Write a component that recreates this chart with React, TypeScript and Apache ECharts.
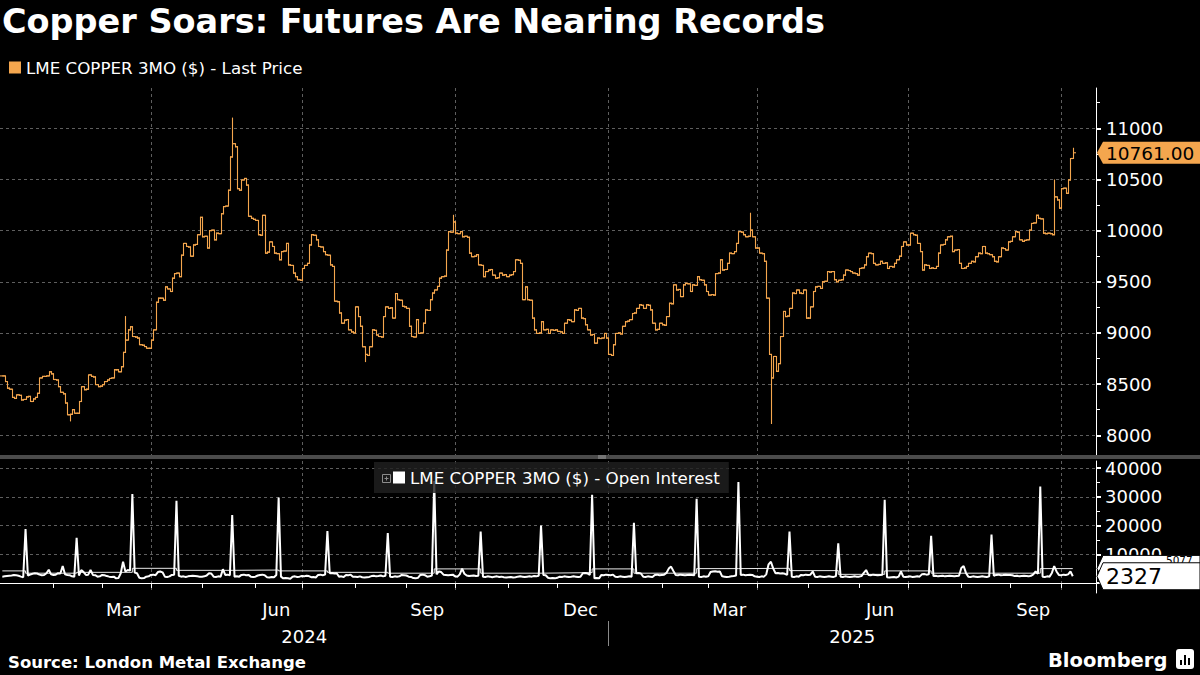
import React, { useEffect, useRef } from 'react';
import * as echarts from 'echarts';

// ---------- categories (weekdays shown on the time axis) ----------
const AXIS_START = '2024-01-01';
const AXIS_END = '2025-10-22';
const DATA_START = '2024-01-02';

function buildWeekdays(start: string, end: string): string[] {
  const out: string[] = [];
  const d = new Date(start + 'T00:00:00Z');
  const e = new Date(end + 'T00:00:00Z');
  while (d <= e) {
    const wd = d.getUTCDay();
    if (wd !== 0 && wd !== 6) out.push(d.toISOString().slice(0, 10));
    d.setUTCDate(d.getUTCDate() + 1);
  }
  return out;
}
const categories = buildWeekdays(AXIS_START, AXIS_END);

// ---------- LME copper 3M, daily last price ----------
const priceClose2024 = [
  // Jan
  8580, 8525, 8460, 8450, 8370, 8360, 8395, 8390, 8345, 8350, 8375, 8380, 8330, 8355, 8370, 8410, 8560, 8575, 8575, 8580, 8620, 8600,
  // Feb
  8545, 8540, 8475, 8420, 8405, 8315, 8200, 8205, 8250, 8215, 8215, 8330, 8475, 8445, 8450, 8590, 8575, 8570, 8495, 8475, 8480,
  // Mar
  8495, 8525, 8540, 8555, 8560, 8640, 8640, 8620, 8670, 8810, 8930, 9030, 9060, 8965, 8960, 8950, 8885, 8880, 8867, 8850, 8850,
  // Apr
  8930, 9030, 9300, 9340, 9340, 9320, 9450, 9430, 9405, 9535, 9580, 9585, 9550, 9760, 9875, 9845, 9840, 9750, 9860, 9865, 9960, 10130,
  // May
  9940, 9945, 9830, 10000, 10005, 9910, 9975, 9970, 10165, 10235, 10240, 10395, 10720, 10850, 10820, 10410, 10395, 10495, 10510, 10445, 10140, 10120, 10110,
  // Jun
  10100, 9960, 9955, 10150, 9780, 9790, 9890, 9845, 9780, 9775, 9715, 9795, 9800, 9875, 9665, 9660, 9585, 9550, 9520, 9515,
  // Jul
  9630, 9660, 9680, 9860, 9960, 9955, 9910, 9845, 9840, 9795, 9765, 9760, 9665, 9650, 9310, 9305, 9195, 9095, 9125, 9130, 9030, 9010, 9000,
  // Aug
  9255, 9160, 9065, 8865, 8790, 8780, 8865, 9030, 9025, 8980, 8965, 8960, 9160, 9255, 9240, 9245, 9145, 9385, 9325, 9320, 9260, 9255,
  // Sep
  9240, 9065, 8965, 8960, 9130, 8995, 9000, 9095, 9225, 9220, 9325, 9390, 9420, 9455, 9535, 9550, 9555, 9810, 9990, 9985, 10085,
  // Oct
  9975, 9970, 9990, 9940, 9945, 9935, 9780, 9745, 9750, 9765, 9665, 9660, 9550, 9600, 9615, 9620, 9565, 9535, 9540, 9585, 9565, 9570, 9550,
  // Nov
  9565, 9570, 9600, 9715, 9710, 9680, 9325, 9450, 9325, 9320, 9145, 9030, 8995, 9000, 9110, 9030, 9035, 8995, 9030, 9025, 9030,
  // Dec
  9015, 9010, 8995, 9095, 9130, 9125, 9110, 9225, 9220, 9240, 9145, 9140, 9080, 9030, 8980, 8985, 8900, 8950, 8945, 8950, 8995, 8950,
];
const priceClose2025 = [
  // Jan
  8790, 8780, 8885, 8995, 9000, 8990, 9065, 9110, 9115, 9130, 9190, 9195, 9240, 9275, 9270, 9240, 9275, 9270, 9225, 9095, 9030, 9035, 9095,
  // Feb
  9080, 9075, 9160, 9290, 9285, 9470, 9420, 9425, 9355, 9470, 9485, 9480, 9405, 9470, 9465, 9550, 9520, 9515, 9470, 9405,
  // Mar
  9370, 9375, 9370, 9580, 9585, 9715, 9615, 9620, 9680, 9780, 9775, 9795, 9875, 9990, 9985, 9960, 9940, 9945, 10005, 9940, 9830,
  // Apr
  9830, 9780, 9775, 9700, 9340, 8790, 8560, 8770, 8625, 8700, 8965, 9210, 9160, 9165, 9240, 9390, 9385, 9420, 9390, 9385, 9420, 9145,
  // May
  9145, 9255, 9405, 9450, 9455, 9435, 9500, 9505, 9600, 9595, 9600, 9520, 9500, 9515, 9520, 9565, 9615, 9610, 9600, 9585, 9580, 9565,
  // Jun
  9630, 9635, 9665, 9745, 9780, 9775, 9680, 9665, 9670, 9700, 9680, 9685, 9630, 9650, 9645, 9680, 9715, 9750, 9845, 9890, 9860,
  // Jul
  9860, 9975, 9960, 9955, 9875, 9795, 9615, 9665, 9660, 9630, 9635, 9630, 9650, 9780, 9860, 9865, 9910, 9940, 9945, 9795, 9810, 9815, 9680,
  // Aug
  9630, 9635, 9650, 9680, 9700, 9695, 9745, 9780, 9775, 9845, 9780, 9775, 9765, 9745, 9700, 9695, 9745, 9830, 9825, 9810, 9890,
  // Sep
  9895, 9940, 9990, 9985, 9910, 9895, 9905, 9910, 10005, 10070, 10075, 10150, 10120, 10115, 9975, 9970, 9975, 9970, 9960, 10330, 10300, 10220,
  // Oct
  10410, 10415, 10365, 10495, 10705, 10761,
];

// intraday extremes visible beyond the close-to-close range
const wickHighDates = ['2024-03-15', '2024-05-20', '2024-09-30', '2025-03-27', '2025-09-26', '2025-10-08'];
const wickHighValues = [9160, 11100, 10150, 10170, 10495, 10805];
const wickLowDates = ['2024-02-12', '2024-08-07', '2025-04-09'];
const wickLowValues = [8140, 8720, 8115];

// ---------- open interest, daily ----------
const openInterest2024 = [
  2200, 2300, 2400, 2500, 2600, 2800, 2700, 2500, 2200, 2000, 18800, 2600, 2900, 3200, 3400, 3300, 2900, 2700, 2800, 3400, 4600, 3000,
  2800, 2900, 3400, 3300, 5900, 3000, 2800, 2700, 2300, 2200, 15700, 2600, 4500, 3800, 2800, 2900, 4500, 2800, 2700, 2200, 2300,
  2800, 2700, 2400, 2200, 2100, 2200, 1600, 1700, 3400, 7400, 4000, 4500, 4300, 31000, 3600, 3400, 1800, 1600, 1700, 2200, 2300,
  2800, 2900, 2700, 3800, 4000, 3700, 2200, 2100, 2300, 2800, 2900, 28600, 2500, 2200, 2300, 2100, 2300, 2400, 2500, 2400, 2300, 2200,
  2200, 2300, 2600, 3400, 3300, 2200, 2100, 2300, 2200, 4800, 2800, 2900, 2700, 23700, 2200, 2300, 2200, 2800, 2900, 2700, 2800, 2200, 2100,
  2200, 2600, 2800, 2900, 2700, 2000, 1900, 2100, 2000, 2800, 29800, 2200, 1600, 1700, 1600, 1500, 2200, 2300, 2100, 2200,
  2400, 2300, 2500, 2400, 2000, 2100, 1900, 2800, 2900, 2700, 2900, 18100, 3400, 3500, 3300, 3400, 2200, 2300, 2100, 2800, 2700, 2900, 2200,
  2200, 2100, 2300, 2000, 1900, 2000, 2100, 2400, 2500, 2300, 2400, 2600, 2300, 2500, 17400, 2200, 2100, 2300, 2200, 2300, 2800, 2700,
  2600, 2200, 2100, 1700, 1600, 1800, 2800, 2900, 2700, 2200, 2300, 2600, 35500, 3000, 4000, 3800, 2900, 2800, 2700, 2800, 2900,
  2300, 2200, 3000, 5000, 3200, 2600, 2400, 2500, 2600, 2400, 2500, 17900, 2200, 2100, 2300, 2200, 2000, 2200, 2300, 2100, 2200, 2000, 1900,
  2000, 2100, 1900, 2000, 2200, 2300, 2200, 2100, 2200, 2300, 2200, 2400, 2300, 2500, 20000, 2800, 2700, 1800, 1600, 1700, 1600,
  1800, 2200, 2100, 2300, 2200, 2100, 2200, 2300, 2200, 2100, 2200, 3400, 3500, 3300, 2800, 30700, 1600, 1700, 1600, 2800, 2700, 2900,
];
const openInterest2025 = [
  2800, 2700, 2900, 2200, 2100, 2300, 2200, 2100, 2200, 2300, 2200, 21000, 3400, 3500, 3300, 2200, 2100, 2300, 2200, 2100, 2800, 2900, 2700,
  2800, 2900, 3500, 5000, 5700, 4200, 2800, 2700, 2900, 2800, 2700, 2800, 2900, 2800, 2700, 29300, 2200, 2100, 2300, 2200,
  2300, 3800, 4000, 4100, 3900, 4000, 2300, 2200, 2100, 2200, 2300, 2400, 2600, 35200, 2800, 2900, 2700, 2800, 2900, 2800, 2300,
  2200, 2100, 2300, 2200, 3000, 6500, 7400, 5000, 3400, 3500, 3300, 3400, 3200, 2800, 17900, 2200, 2100, 2300, 2200, 2800, 2700, 2900,
  2800, 2900, 4000, 2200, 2100, 2300, 2200, 2100, 2200, 2300, 2200, 2100, 2400, 13800, 2200, 2100, 2300, 2200, 2100, 2200, 2300, 2200,
  2200, 2400, 3500, 4500, 2800, 2700, 2900, 2800, 2700, 2800, 2900, 29000, 2000, 1900, 2000, 2100, 1900, 2200, 4000, 2200, 2100,
  2200, 2300, 2100, 2200, 2300, 2200, 3000, 3100, 2900, 3000, 16400, 2400, 2500, 2300, 2400, 2500, 2300, 2400, 2500, 2400, 2300, 2400, 2500,
  5200, 5900, 3500, 2200, 2100, 2300, 2200, 2100, 2200, 2300, 2200, 2100, 2300, 16900, 2500, 2800, 2900, 2700, 2800, 2900, 2800,
  2800, 2700, 2400, 2500, 2300, 2400, 2500, 2400, 2300, 2500, 3000, 4000, 3200, 33600, 2200, 2100, 2300, 2200, 3500, 5900, 4000, 2800,
  2700, 2900, 2800, 3000, 4000, 2327,
];

// thin step line in the lower panel (level changes)
const oiStepDates = [
  '2024-01-02', '2024-01-16', '2024-02-15', '2024-03-20', '2024-04-16', '2024-05-20', '2024-06-17', '2024-07-16',
  '2024-08-21', '2024-09-18', '2024-10-16', '2024-11-21', '2024-12-23', '2025-01-16', '2025-02-24', '2025-03-20',
  '2025-04-21', '2025-05-20', '2025-06-17', '2025-07-15', '2025-08-20', '2025-09-18', '2025-10-08',
];
const oiStepValues = [
  4200, 3400, 3700, 5100, 4400, 4500, 4200, 3700,
  3400, 4900, 3400, 3600, 4900, 3400, 5000, 5100,
  4300, 3000, 4200, 3400, 3400, 5000, 5077,
];

// ---------- axis ticks ----------
const priceTicks = [8000, 8500, 9000, 9500, 10000, 10500, 11000];
const priceMinorTicks = [8250, 8750, 9250, 9750, 10250, 10750, 11250];
const oiTicks = [0, 10000, 20000, 30000, 40000];
const oiLabelTicks = [10000, 20000, 30000, 40000];
const oiMinorTicks = [5000, 15000, 25000, 35000];
const monthNames = ['Jan', 'Feb', 'Mar', 'Apr', 'May', 'Jun', 'Jul', 'Aug', 'Sep', 'Oct', 'Nov', 'Dec'];
const labelledMonths = [2, 5, 8, 11];
const quarterMonths = [0, 3, 6, 9];

const NAME_PRICE = 'LME COPPER 3MO ($) - Last Price';
const NAME_OI = 'LME COPPER 3MO ($) - Open Interest';
const NAME_STEP = 'LME COPPER 3MO ($) - Open Interest (avg)';

const ORANGE = '#f4a64e';
const FONT = '"DejaVu Sans", sans-serif';
const GRID_LINE = { color: '#5e5e5e', type: [3, 3] as any, width: 1 };

const PRICE_MIN = 7807;
const PRICE_MAX = 11394;
const OI_MIN = -3500;
const OI_MAX = 42500;
const AXIS_X = 1096;

// ---------- derived structures ----------
const indexOf = new Map<string, number>();
categories.forEach((d, i) => indexOf.set(d, i));

const monthFirst: number[] = [];
categories.forEach((d, i) => {
  if (i === 0 || d.slice(0, 7) !== categories[i - 1].slice(0, 7)) monthFirst.push(i);
});
const monthTickSet = new Set<number>(monthFirst.filter((i) => i > 0));
const quarterSet = new Set<number>(
  monthFirst.filter((i) => i > 0 && quarterMonths.includes(Number(categories[i].slice(5, 7)) - 1))
);
const monthLabel = new Map<number, string>();
monthFirst.forEach((first, k) => {
  const next = k + 1 < monthFirst.length ? monthFirst[k + 1] : categories.length;
  const m = Number(categories[first].slice(5, 7)) - 1;
  if (labelledMonths.includes(m) && k + 1 < monthFirst.length) {
    monthLabel.set(Math.floor((first + next) / 2) - 1, monthNames[m]);
  }
});
const yearStart2025 = indexOf.get('2025-01-01') as number;
const yearLabel = new Map<number, string>();
yearLabel.set(Math.floor((0 + yearStart2025) / 2), '2024');
yearLabel.set(Math.floor((yearStart2025 + categories.length) / 2), '2025');

const firstIdx = indexOf.get(DATA_START) as number;
const closes = [...priceClose2024, ...priceClose2025];
const wickHigh = new Map<string, number>(wickHighDates.map((d, k) => [d, wickHighValues[k]]));
const wickLow = new Map<string, number>(wickLowDates.map((d, k) => [d, wickLowValues[k]]));
const priceData = closes.map((c, k) => {
  const idx = firstIdx + k;
  const o = k === 0 ? c : closes[k - 1];
  const date = categories[idx];
  let hi = Math.max(o, c);
  let lo = Math.min(o, c);
  if (wickHigh.has(date)) hi = Math.max(hi, wickHigh.get(date) as number);
  if (wickLow.has(date)) lo = Math.min(lo, wickLow.get(date) as number);
  return [idx, o, c, lo, hi];
});
const oiValues = [...openInterest2024, ...openInterest2025];
const oiData = oiValues.map((v, k) => [firstIdx + k, v]);
const stepData = oiStepDates.map((d, k) => [indexOf.get(d) as number, oiStepValues[k]]);

const lastClose = closes[closes.length - 1];
const lastOi = oiValues[oiValues.length - 1];
const lastStep = oiStepValues[oiStepValues.length - 1];

const plainNumber = (v: number) => String(v);

function buildOption(): any {
  const catAxisBase = { type: 'category', data: categories, boundaryGap: false };
  return {
    animation: false,
    backgroundColor: '#000000',
    textStyle: { fontFamily: FONT },
    title: {
      text: 'Copper Soars: Futures Are Nearing Records',
      left: 2,
      top: 4,
      padding: 0,
      textStyle: { color: '#ffffff', fontSize: 33.5, fontWeight: 'bold', fontFamily: FONT },
    },
    legend: [
      {
        data: [{ name: NAME_PRICE, icon: 'rect', itemStyle: { color: ORANGE } }],
        left: 9,
        top: 59,
        padding: 0,
        itemWidth: 12,
        itemHeight: 12,
        selectedMode: false,
        textStyle: { color: '#ffffff', fontSize: 16.7, fontFamily: FONT },
      },
      {
        data: [{ name: NAME_OI, icon: 'rect', itemStyle: { color: '#ffffff', borderWidth: 0 } }],
        left: 374,
        top: 462,
        padding: [7, 9, 7, 19],
        backgroundColor: 'rgba(32,32,32,0.82)',
        itemWidth: 12,
        itemHeight: 12,
        selectedMode: false,
        textStyle: { color: '#ffffff', fontSize: 16.7, fontFamily: FONT },
      },
    ],
    grid: [
      { left: 0, top: 88, width: AXIS_X, height: 367, outerBoundsMode: 'none', containLabel: false },
      { left: 0, top: 461, width: AXIS_X, height: 132, outerBoundsMode: 'none', containLabel: false },
    ],
    xAxis: [
      {
        ...catAxisBase,
        gridIndex: 0,
        axisLine: { show: false },
        axisTick: { show: false },
        axisLabel: { show: false },
        splitLine: { show: true, interval: (i: number) => quarterSet.has(i), lineStyle: GRID_LINE },
      },
      {
        ...catAxisBase,
        gridIndex: 1,
        position: 'bottom',
        axisLine: { show: true, lineStyle: { color: '#ffffff', width: 1 } },
        axisTick: {
          show: true,
          inside: false,
          interval: (i: number) => monthTickSet.has(i),
          length: 5,
          lineStyle: { color: '#ffffff', width: 1 },
        },
        axisLabel: {
          show: true,
          interval: (i: number) => monthLabel.has(i),
          formatter: (_v: string, i: number) => monthLabel.get(i) || '',
          color: '#ffffff',
          fontSize: 18,
          fontFamily: FONT,
          margin: 7,
        },
        splitLine: { show: true, interval: (i: number) => quarterSet.has(i), lineStyle: GRID_LINE },
      },
      {
        ...catAxisBase,
        gridIndex: 1,
        position: 'bottom',
        offset: 27,
        axisLine: { show: false },
        axisTick: { show: false },
        axisLabel: {
          show: true,
          interval: (i: number) => yearLabel.has(i),
          formatter: (_v: string, i: number) => yearLabel.get(i) || '',
          color: '#ffffff',
          fontSize: 18,
          fontFamily: FONT,
          margin: 7,
        },
        splitLine: { show: false },
      },
    ],
    yAxis: [
      {
        type: 'value',
        gridIndex: 0,
        position: 'right',
        min: PRICE_MIN,
        max: PRICE_MAX,
        axisLine: { show: true, lineStyle: { color: '#ffffff', width: 1 } },
        axisTick: { show: true, customValues: priceTicks, length: 5, lineStyle: { color: '#ffffff', width: 2 } },
        axisLabel: {
          show: true,
          customValues: priceTicks,
          formatter: plainNumber,
          color: '#ffffff',
          fontSize: 18,
          fontFamily: FONT,
          margin: 10,
        },
        splitLine: { show: true, lineStyle: GRID_LINE },
      },
      {
        type: 'value',
        gridIndex: 0,
        position: 'right',
        min: PRICE_MIN,
        max: PRICE_MAX,
        axisLine: { show: false },
        axisTick: { show: true, customValues: priceMinorTicks, length: 4, lineStyle: { color: '#ffffff', width: 1 } },
        axisLabel: { show: false },
        splitLine: { show: false },
      },
      {
        type: 'value',
        gridIndex: 1,
        position: 'right',
        min: OI_MIN,
        max: OI_MAX,
        axisLine: { show: true, lineStyle: { color: '#ffffff', width: 1 } },
        axisTick: { show: true, customValues: oiTicks, length: 5, lineStyle: { color: '#ffffff', width: 2 } },
        axisLabel: {
          show: true,
          customValues: oiLabelTicks,
          formatter: plainNumber,
          color: '#ffffff',
          fontSize: 18,
          fontFamily: FONT,
          margin: 9,
        },
        splitLine: { show: true, lineStyle: GRID_LINE },
      },
      {
        type: 'value',
        gridIndex: 1,
        position: 'right',
        min: OI_MIN,
        max: OI_MAX,
        axisLine: { show: false },
        axisTick: { show: true, customValues: oiMinorTicks, length: 4, lineStyle: { color: '#ffffff', width: 1 } },
        axisLabel: { show: false },
        splitLine: { show: false },
      },
    ],
    series: [
      {
        type: 'custom',
        name: NAME_PRICE,
        xAxisIndex: 0,
        yAxisIndex: 0,
        data: priceData,
        encode: { x: 0, y: [1, 2, 3, 4] },
        itemStyle: { color: ORANGE },
        clip: true,
        z: 3,
        renderItem: (_params: any, api: any) => {
          const idx = api.value(0);
          const pO = api.coord([idx, api.value(1)]);
          const yc = api.coord([idx, api.value(2)])[1];
          const yl = api.coord([idx, api.value(3)])[1];
          const yh = api.coord([idx, api.value(4)])[1];
          const x = Math.round(pO[0]) + 0.5;
          const yo = pO[1];
          const st = { stroke: ORANGE, lineWidth: 1.1 };
          return {
            type: 'group',
            children: [
              { type: 'line', shape: { x1: x, y1: yh - 0.5, x2: x, y2: yl + 0.5 }, style: st },
              { type: 'line', shape: { x1: x - 2.5, y1: yo, x2: x, y2: yo }, style: st },
              { type: 'line', shape: { x1: x, y1: yc, x2: x + 2.5, y2: yc }, style: st },
            ],
          };
        },
      },
      {
        type: 'line',
        name: NAME_STEP,
        xAxisIndex: 1,
        yAxisIndex: 2,
        data: stepData,
        step: 'end',
        symbol: 'none',
        showSymbol: false,
        lineStyle: { color: '#e8e8e8', width: 1 },
        itemStyle: { color: '#e8e8e8' },
        z: 2,
      },
      {
        type: 'line',
        name: NAME_OI,
        xAxisIndex: 1,
        yAxisIndex: 2,
        data: oiData,
        symbol: 'none',
        showSymbol: false,
        lineStyle: { color: '#ffffff', width: 2 },
        itemStyle: { color: '#ffffff' },
        z: 3,
      },
    ],
  };
}

function txt(id: string, x: number, y: number, text: string, size: number, weight: string, fill: string, z = 120) {
  return {
    type: 'text',
    id,
    x,
    y,
    z,
    style: {
      text,
      fill,
      fontSize: size,
      fontWeight: weight,
      fontFamily: FONT,
      align: 'left',
      verticalAlign: 'middle',
      textAlign: 'left',
      textVerticalAlign: 'middle',
    },
  };
}

function badgeShape(id: string, y: number, h: number, fill: string, stroke: string | null, z: number) {
  const tip = AXIS_X + 1;
  const body = tip + 6;
  return {
    type: 'polygon',
    id,
    z,
    shape: {
      points: [
        [tip, y],
        [body, y - h / 2],
        [1200, y - h / 2],
        [1200, y + h / 2],
        [body, y + h / 2],
      ],
    },
    style: stroke ? { fill, stroke, lineWidth: 1 } : { fill },
  };
}

export default function App() {
  const ref = useRef<HTMLDivElement>(null);
  useEffect(() => {
    document.body.style.margin = '0';
    document.body.style.background = '#000';
    const chart = echarts.init(ref.current as HTMLDivElement, null, { renderer: 'svg' });
    chart.setOption(buildOption());

    const yPrice = chart.convertToPixel({ yAxisIndex: 0 } as any, lastClose) as unknown as number;
    const yStep = chart.convertToPixel({ yAxisIndex: 2 } as any, lastStep) as unknown as number;
    const yOi = chart.convertToPixel({ yAxisIndex: 2 } as any, lastOi) as unknown as number;
    const xYear = chart.convertToPixel({ xAxisIndex: 1 } as any, yearStart2025) as unknown as number;
    const xs = Math.round(xYear) + 0.5;

    const graphics: any[] = [
      { type: 'rect', id: 'sep', z: 90, shape: { x: 0, y: 455, width: 1200, height: 4 }, style: { fill: '#4b4b4b' } },
      { type: 'line', id: 'grip1', z: 91, shape: { x1: 598, y1: 456, x2: 606, y2: 456 }, style: { stroke: '#a0a0a0', lineWidth: 1 } },
      { type: 'line', id: 'grip2', z: 91, shape: { x1: 598, y1: 458, x2: 606, y2: 458 }, style: { stroke: '#a0a0a0', lineWidth: 1 } },
      { type: 'line', id: 'year-sep', z: 91, shape: { x1: xs, y1: 621, x2: xs, y2: 646 }, style: { stroke: '#8a8a8a', lineWidth: 1 } },
      { type: 'rect', id: 'exp-box', z: 120, shape: { x: 382.5, y: 474.5, width: 8, height: 8 }, style: { fill: 'none', stroke: '#8c8c8c', lineWidth: 1 } },
      { type: 'line', id: 'exp-h', z: 120, shape: { x1: 384.5, y1: 478.5, x2: 388.5, y2: 478.5 }, style: { stroke: '#8c8c8c', lineWidth: 1 } },
      { type: 'line', id: 'exp-v', z: 120, shape: { x1: 386.5, y1: 476.5, x2: 386.5, y2: 480.5 }, style: { stroke: '#8c8c8c', lineWidth: 1 } },
      txt('source', 8, 662, 'Source: London Metal Exchange', 16.5, 'bold', '#ffffff'),
      txt('bbg', 1048, 660, 'Bloomberg', 19.5, 'bold', '#ffffff'),
      { type: 'rect', id: 'bbg-icon', z: 120, shape: { x: 1176, y: 649, width: 18, height: 20, r: 3 }, style: { fill: '#ffffff' } },
      { type: 'rect', id: 'bbg-b1', z: 121, shape: { x: 1180, y: 660, width: 2, height: 5 }, style: { fill: '#000000' } },
      { type: 'rect', id: 'bbg-b2', z: 121, shape: { x: 1184, y: 655, width: 2, height: 10 }, style: { fill: '#000000' } },
      { type: 'rect', id: 'bbg-b3', z: 121, shape: { x: 1188, y: 658, width: 2, height: 7 }, style: { fill: '#000000' } },
      // last-price badge
      badgeShape('price-badge', yPrice, 22, ORANGE, null, 130),
      txt('price-badge-text', AXIS_X + 10, yPrice + 0.5, lastClose.toFixed(2), 18.5, 'normal', '#000000', 131),
      // step-line badge (mostly covered by the open-interest badge)
      badgeShape('step-badge', yStep, 26, '#ffffff', '#000000', 132),
      txt('step-badge-text', 1166, yStep - 8.5, String(lastStep), 10.5, 'normal', '#000000', 133),
      // open-interest badge
      badgeShape('oi-badge', yOi, 27, '#ffffff', '#000000', 134),
      txt('oi-badge-text', AXIS_X + 10, yOi + 0.5, String(lastOi), 22, 'normal', '#000000', 135),
    ];
    chart.setOption({ graphic: graphics });

    return () => chart.dispose();
  }, []);
  return (
    <div
      ref={ref}
      style={{ position: 'fixed', left: 0, top: 0, width: 1200, height: 675, background: '#000' }}
    />
  );
}
